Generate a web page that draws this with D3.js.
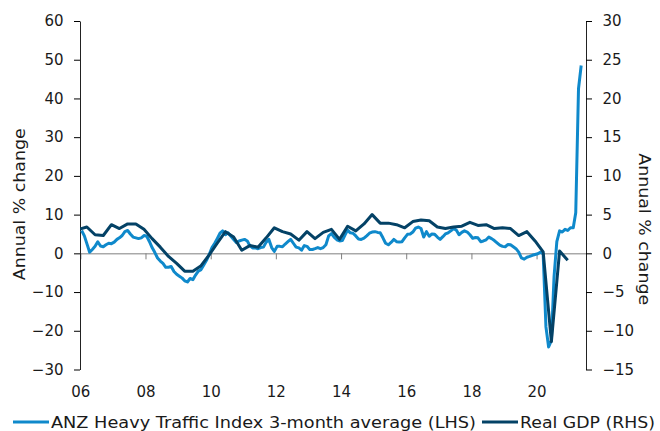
<!DOCTYPE html>
<html>
<head>
<meta charset="utf-8">
<script src="https://cdn.jsdelivr.net/npm/d3@7"></script>
<style>
  body { margin: 0; background: #fff; }
  svg { display: block; font-family: "DejaVu Sans", Verdana, sans-serif; }
</style>
</head>
<body>
<div id="chart"></div>
<script>
// ANZ Heavy Traffic Index, 3-month average, annual % change (monthly, from Jan 2006)
const htiStart = [2006, 0];
const heavyTraffic = [
  5.9, 4.5, 2.5, 0.3, 1.0, 1.8, 3.0, 1.9, 1.7, 2.2, 2.6, 2.5,        // 2006
  2.9, 3.6, 4.0, 4.6, 5.6, 5.9, 5.0, 4.2, 4.0, 3.8, 4.0, 4.6,        // 2007
  4.4, 3.0, 1.5, 0.2, -1.2, -2.0, -2.6, -3.6, -3.6, -3.4, -4.7, -5.4, // 2008
  -5.9, -6.4, -7.1, -7.4, -6.5, -6.8, -5.6, -4.6, -4.2, -3.0, -1.8, -0.3, // 2009
  1.5, 2.6, 3.8, 5.2, 5.8, 4.8, 5.3, 4.4, 3.6, 2.8, 3.2, 3.4,        // 2010
  3.6, 3.2, 2.0, 1.4, 1.4, 1.2, 1.5, 1.6, 2.9, 3.6, 1.5, 0.5,        // 2011
  1.8, 1.8, 1.7, 2.4, 3.0, 3.6, 2.6, 1.6, 1.4, 0.8, 2.0, 1.8,        // 2012
  1.0, 1.0, 1.2, 1.5, 1.2, 1.5, 2.2, 4.5, 5.1, 4.2, 3.5, 3.2,        // 2013
  3.3, 4.8, 6.0, 5.3, 5.2, 4.5, 3.7, 3.6, 3.9, 4.5, 5.2, 5.5,        // 2014
  5.6, 5.4, 5.3, 4.0, 2.6, 2.2, 2.8, 3.6, 3.0, 2.9, 3.0, 4.0,        // 2015
  4.9, 5.0, 5.5, 6.5, 6.8, 6.4, 4.2, 5.6, 4.4, 5.0, 4.9, 4.2,        // 2016
  3.6, 4.3, 5.0, 5.3, 5.8, 6.4, 6.0, 4.8, 5.4, 5.8, 5.5, 4.8,        // 2017
  3.9, 4.1, 4.0, 3.0, 3.2, 3.5, 4.2, 3.8, 3.3, 2.7, 2.1, 1.8,        // 2018
  1.7, 2.3, 2.2, 1.7, 1.2, 0.3, -1.2, -1.5, -1.0, -0.8, -0.5, -0.3,  // 2019
  -0.1, 0.3, -0.2, -19.0, -24.2, -22.5, -6.0, 3.0, 5.8, 5.5, 6.2, 5.9, // 2020
  6.6, 6.6, 10.5, 42.5, 48.5                                          // 2021
];

// Real GDP, annual % change (quarterly, from Dec 2005 quarter)
const gdpStart = [2005, 11];
const realGdp = [
  3.1,
  3.4, 2.4, 2.3, 3.7,   // 2006
  3.2, 3.8, 3.8, 3.1,   // 2007
  1.9, 0.8, -0.4, -1.3, // 2008
  -2.3, -2.3, -1.6, -0.2, // 2009
  1.3, 2.8, 2.1, 0.4,   // 2010
  1.0, 0.8, 2.0, 3.3,   // 2011
  2.8, 2.5, 1.7, 2.8,   // 2012
  1.9, 2.7, 3.1, 1.8,   // 2013
  3.5, 2.9, 3.8, 5.0,   // 2014
  3.9, 3.9, 3.7, 3.3,   // 2015
  4.1, 4.3, 4.2, 3.4,   // 2016
  3.2, 3.4, 3.5, 4.0,   // 2017
  3.6, 3.7, 3.2, 3.3,   // 2018
  3.2, 2.3, 2.8, 1.6,   // 2019
  0.2, -11.4, 0.3, -0.9 // 2020
];

const xTickYears = [2006, 2008, 2010, 2012, 2014, 2016, 2018, 2020];
const leftTicks = [-30, -20, -10, 0, 10, 20, 30, 40, 50, 60];
const rightTicks = [-15, -10, -5, 0, 5, 10, 15, 20, 25, 30];
const seriesNames = ["ANZ Heavy Traffic Index 3-month average (LHS)", "Real GDP (RHS)"];

const lightBlue = "#0f89cb";
const darkBlue = "#044266";

const margin = { top: 21, right: 74, bottom: 61.5, left: 80 };
const width = 660 - margin.left - margin.right;
const height = 431 - margin.top - margin.bottom;

const svg = d3.select("#chart")
  .append("svg")
  .attr("width", 660)
  .attr("height", 431);

const chart = svg.append("g")
  .attr("transform", `translate(${margin.left},${margin.top})`);

const htiData = heavyTraffic.map((v, i) => ({ date: new Date(htiStart[0], htiStart[1] + i, 15), value: v }));
const gdpData = realGdp.map((v, i) => ({ date: new Date(gdpStart[0], gdpStart[1] + 3 * i, 15), value: v }));

const xScale = d3.scaleTime()
  .domain([new Date(2005, 11, 28), new Date(2021, 6, 8)])
  .range([0, width]);

const yLeft = d3.scaleLinear().domain([-30, 60]).range([height, 0]);
const yRight = d3.scaleLinear().domain([-15, 30]).range([height, 0]);

chart.append("defs").append("clipPath")
  .attr("id", "plot-clip")
  .append("rect")
  .attr("width", width)
  .attr("height", height);

// zero line with tick marks
const zeroAxis = chart.append("g")
  .attr("transform", `translate(0,${yLeft(0)})`)
  .call(d3.axisBottom(xScale)
    .tickValues(xTickYears.map(y => new Date(y, 0, 1)))
    .tickSize(6)
    .tickSizeOuter(0)
    .tickFormat(""));
zeroAxis.select(".domain").attr("stroke", "#7f7f7f");
zeroAxis.selectAll(".tick line").attr("stroke", "#7f7f7f");

// x labels sit at the bottom of the plot
const xLabels = chart.append("g")
  .attr("transform", `translate(0,${height})`)
  .call(d3.axisBottom(xScale)
    .tickValues(xTickYears.map(y => new Date(y, 0, 1)))
    .tickSize(0)
    .tickPadding(17)
    .tickFormat(d3.timeFormat("%y")));
xLabels.select(".domain").remove();

const leftAxis = chart.append("g")
  .call(d3.axisLeft(yLeft).tickValues(leftTicks).tickSize(6).tickSizeOuter(0).tickPadding(10.5));

const rightAxis = chart.append("g")
  .attr("transform", `translate(${width},0)`)
  .call(d3.axisRight(yRight).tickValues(rightTicks).tickSize(6).tickSizeOuter(0).tickPadding(10.5));
rightAxis.selectAll("text").attr("x", 16.5).attr("text-anchor", "start");

svg.selectAll(".tick text")
  .attr("font-size", 15)
  .attr("font-family", "DejaVu Sans, Verdana, sans-serif")
  .attr("fill", "#1a1a1a");
leftAxis.select(".domain").attr("stroke", "#222");
rightAxis.select(".domain").attr("stroke", "#222");

// axis titles (stretched to the wider Verdana-like widths of the original)
chart.append("text")
  .attr("transform", `translate(${-55},${yLeft(15) + 9}) rotate(-90)`)
  .attr("text-anchor", "middle")
  .attr("font-size", 15)
  .attr("fill", "#1a1a1a")
  .attr("textLength", 152)
  .attr("lengthAdjust", "spacingAndGlyphs")
  .text("Annual % change");

chart.append("text")
  .attr("transform", `translate(${width + 53},${yLeft(15) + 34}) rotate(90)`)
  .attr("text-anchor", "middle")
  .attr("font-size", 15)
  .attr("fill", "#1a1a1a")
  .attr("textLength", 152)
  .attr("lengthAdjust", "spacingAndGlyphs")
  .text("Annual % change");

// lines
const lineLeft = d3.line().x(d => xScale(d.date)).y(d => yLeft(d.value));
const lineRight = d3.line().x(d => xScale(d.date)).y(d => yRight(d.value));

const plot = chart.append("g").attr("clip-path", "url(#plot-clip)");

plot.append("path")
  .datum(htiData)
  .attr("fill", "none")
  .attr("stroke", lightBlue)
  .attr("stroke-width", 3)
  .attr("stroke-linejoin", "round")
  .attr("d", lineLeft);

plot.append("path")
  .datum(gdpData)
  .attr("fill", "none")
  .attr("stroke", darkBlue)
  .attr("stroke-width", 3)
  .attr("stroke-linejoin", "round")
  .attr("d", lineRight);

// legend
const legend = svg.append("g").attr("transform", "translate(0,422)");
const legendItems = [
  { name: seriesNames[0], color: lightBlue, x: 13, len: 425 },
  { name: seriesNames[1], color: darkBlue, x: 482, len: 135 }
];
legendItems.forEach(item => {
  legend.append("line")
    .attr("x1", item.x).attr("x2", item.x + 36)
    .attr("y1", 0).attr("y2", 0)
    .attr("stroke", item.color)
    .attr("stroke-width", 3);
  legend.append("text")
    .attr("x", item.x + 38)
    .attr("y", 5.5)
    .attr("font-size", 15)
    .attr("fill", "#1a1a1a")
    .attr("textLength", item.len)
    .attr("lengthAdjust", "spacingAndGlyphs")
    .text(item.name);
});
</script>
</body>
</html>
